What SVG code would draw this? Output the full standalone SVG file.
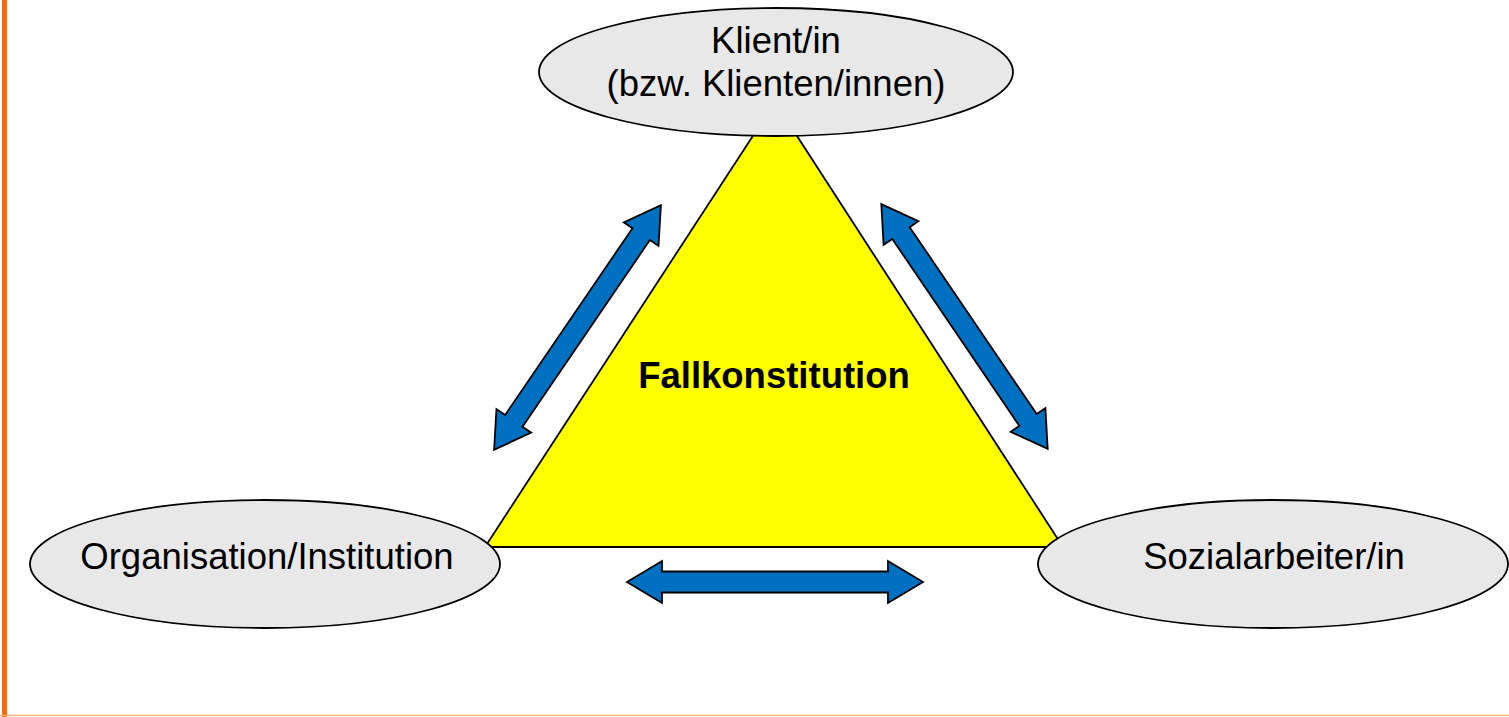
<svg xmlns="http://www.w3.org/2000/svg" width="1509" height="717" viewBox="0 0 1509 717">
<style>
.node{fill:#e8e8e8;stroke:#000;stroke-width:1.8}
.lbl{font-family:"Liberation Sans",Arial,sans-serif;font-size:36.5px;fill:#000;text-anchor:middle}
.arr{fill:#0070c0;stroke:#000;stroke-width:1.8;stroke-linejoin:miter}
</style>
<defs>
<path id="dbl" d="M-148,0 L-113,-21 L-113,-10.5 L113,-10.5 L113,-21 L148,0 L113,21 L113,10.5 L-113,10.5 L-113,21 Z"/>
</defs>
<rect x="0" y="0" width="1509" height="717" fill="#fff"/>
<rect x="2" y="0" width="5" height="717" fill="#ff6a00"/>
<line x1="0" y1="715.5" x2="1509" y2="715.5" stroke="#ffb27a" stroke-width="1.5"/>
<g id="fallkonstitution">
<polygon points="775,102 485,547 1063,547" fill="#ffff00" stroke="#000" stroke-width="1.8"/>
<text x="774" y="388" class="lbl" style="font-weight:bold">Fallkonstitution</text>
</g>
<g id="connectors">
<use href="#dbl" class="arr" transform="translate(577.5,327.5) rotate(-55.7)"/>
<use href="#dbl" class="arr" transform="translate(964.5,326.5) rotate(55.8)"/>
<use href="#dbl" class="arr" transform="translate(775,582)"/>
</g>
<g id="klient">
<ellipse cx="776" cy="72" rx="237" ry="64" class="node"/>
<text x="776" y="53" class="lbl">Klient/in</text>
<text x="776" y="96" class="lbl">(bzw. Klienten/innen)</text>
</g>
<g id="organisation">
<ellipse cx="265" cy="564" rx="235" ry="64" class="node"/>
<text x="267" y="569" class="lbl">Organisation/Institution</text>
</g>
<g id="sozialarbeiter">
<ellipse cx="1273" cy="564" rx="235" ry="64" class="node"/>
<text x="1274" y="569" class="lbl">Sozialarbeiter/in</text>
</g>
</svg>
